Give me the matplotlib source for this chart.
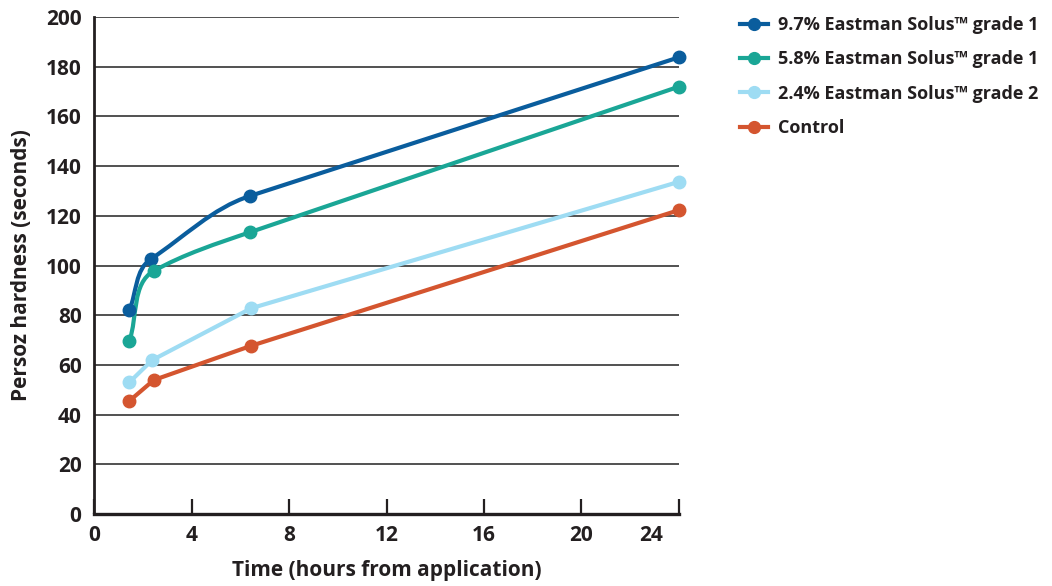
import matplotlib
matplotlib.use("Agg")
import matplotlib.pyplot as plt
import numpy as np
from matplotlib.lines import Line2D
from matplotlib.path import Path
from matplotlib.patches import PathPatch

plt.rcParams["font.family"] = ["Open Sans", "DejaVu Sans"]

# data
labels = [
    "9.7% Eastman Solus\u2122 grade 1",
    "5.8% Eastman Solus\u2122 grade 1",
    "2.4% Eastman Solus\u2122 grade 2",
    "Control",
]
hours_97 = [1.45, 2.33, 6.4, 24]
hours_58 = [1.45, 2.45, 6.4, 24]
hours_24 = [1.45, 2.38, 6.45, 24]
hours_ctrl = [1.45, 2.45, 6.45, 24]
hard_97 = [82.0, 102.6, 128.0, 183.8]
hard_58 = [69.6, 97.8, 113.4, 172.0]
hard_24 = [53.0, 61.9, 82.8, 133.7]
hard_ctrl = [45.5, 53.9, 67.7, 122.3]
smooth = [True, True, False, False]
colors = ["#0a5d9d", "#1aa696", "#9edcf3", "#d4552f"]

x_ticks = [0, 4, 8, 12, 16, 20, 24]
x_tick_labels = ["0", "4", "8", "12", "16", "20", ""]
y_ticks = [0, 20, 40, 60, 80, 100, 120, 140, 160, 180, 200]

TXT = "#231f20"


def smooth_path(ax, xs, ys, k=0.34):
    # bezier through the points (pixel space); inner tangents are a blend
    # leaning hard towards the longer neighbouring segment
    pts = ax.transData.transform(np.column_stack([xs, ys]))
    n = len(pts)
    tans = []
    for i in range(n):
        if i == 0:
            d = pts[1] - pts[0]
        elif i == n - 1:
            d = pts[-1] - pts[-2]
        else:
            a = pts[i] - pts[i - 1]
            b = pts[i + 1] - pts[i]
            la, lb = np.hypot(*a), np.hypot(*b)
            d = a / la * la**5 + b / lb * lb**5
        tans.append(d / np.hypot(*d))
    verts = [pts[0]]
    codes = [Path.MOVETO]
    for i in range(n - 1):
        seg = np.hypot(*(pts[i + 1] - pts[i]))
        verts += [pts[i] + tans[i] * seg * k,
                  pts[i + 1] - tans[i + 1] * seg * k,
                  pts[i + 1]]
        codes += [Path.CURVE4] * 3
    verts = ax.transData.inverted().transform(np.array(verts))
    return Path(verts, codes)


fig = plt.figure(figsize=(10.52, 5.86), dpi=100)
ax = fig.add_axes([0.0894, 0.1229, 0.556, 0.848])
ax.set_xlim(0, 24)
ax.set_ylim(0, 200)

series = [
    (hours_97, hard_97),
    (hours_58, hard_58),
    (hours_24, hard_24),
    (hours_ctrl, hard_ctrl),
]

handles = []
for (xs, ys), lab, col, sm in zip(series, labels, colors, smooth):
    if sm:
        ax.add_patch(PathPatch(smooth_path(ax, xs, ys), fill=False,
                               edgecolor=col, linewidth=3.0,
                               capstyle="round", joinstyle="round",
                               zorder=3, clip_on=False))
        ax.plot(xs, ys, "o", color=col, markersize=9, zorder=4,
                clip_on=False)
    else:
        ax.plot(xs, ys, "-o", color=col, linewidth=3.0, markersize=9,
                zorder=3, clip_on=False, solid_joinstyle="round")
    handles.append(Line2D([], [], color=col, linewidth=3.0, marker="o",
                          markersize=8.5, label=lab))

for s in ["top", "right"]:
    ax.spines[s].set_visible(False)
ax.spines["left"].set_linewidth(2.0)
ax.spines["left"].set_color(TXT)
ax.spines["bottom"].set_linewidth(2.4)
ax.spines["bottom"].set_color(TXT)

ax.set_yticks(y_ticks)
ax.set_xticks(x_ticks)
ax.set_xticklabels(x_tick_labels)
ax.yaxis.grid(True, color="#333333", linewidth=1.2)
ax.set_axisbelow(True)
ax.tick_params(axis="y", length=0, pad=9, labelsize=15, labelcolor=TXT)
ax.tick_params(axis="x", direction="in", length=11, width=1.6, color=TXT,
               pad=8, labelsize=15, labelcolor=TXT)
for t in ax.get_xticklabels() + ax.get_yticklabels():
    t.set_fontweight("bold")

# last tick label sits left of its tick in the reference
ax.annotate("24", xy=(x_ticks[-1], 0), xycoords=("data", "axes fraction"),
            xytext=(-28, -11), textcoords="offset pixels", ha="center",
            va="top", fontsize=15, fontweight="bold", color=TXT)

ax.set_xlabel("Time (hours from application)", fontsize=15,
              fontweight="bold", color=TXT, labelpad=10)
ax.set_ylabel("Persoz hardness (seconds)", fontsize=15,
              fontweight="bold", color=TXT, labelpad=10)

fig.legend(handles=handles, loc="upper left",
           bbox_to_anchor=(0.688, 1.0), frameon=False,
           handlelength=1.55, handletextpad=0.55, labelspacing=0.9,
           labelcolor=TXT, prop={"weight": "bold", "size": 13})

fig.savefig("out.png", dpi=100)
